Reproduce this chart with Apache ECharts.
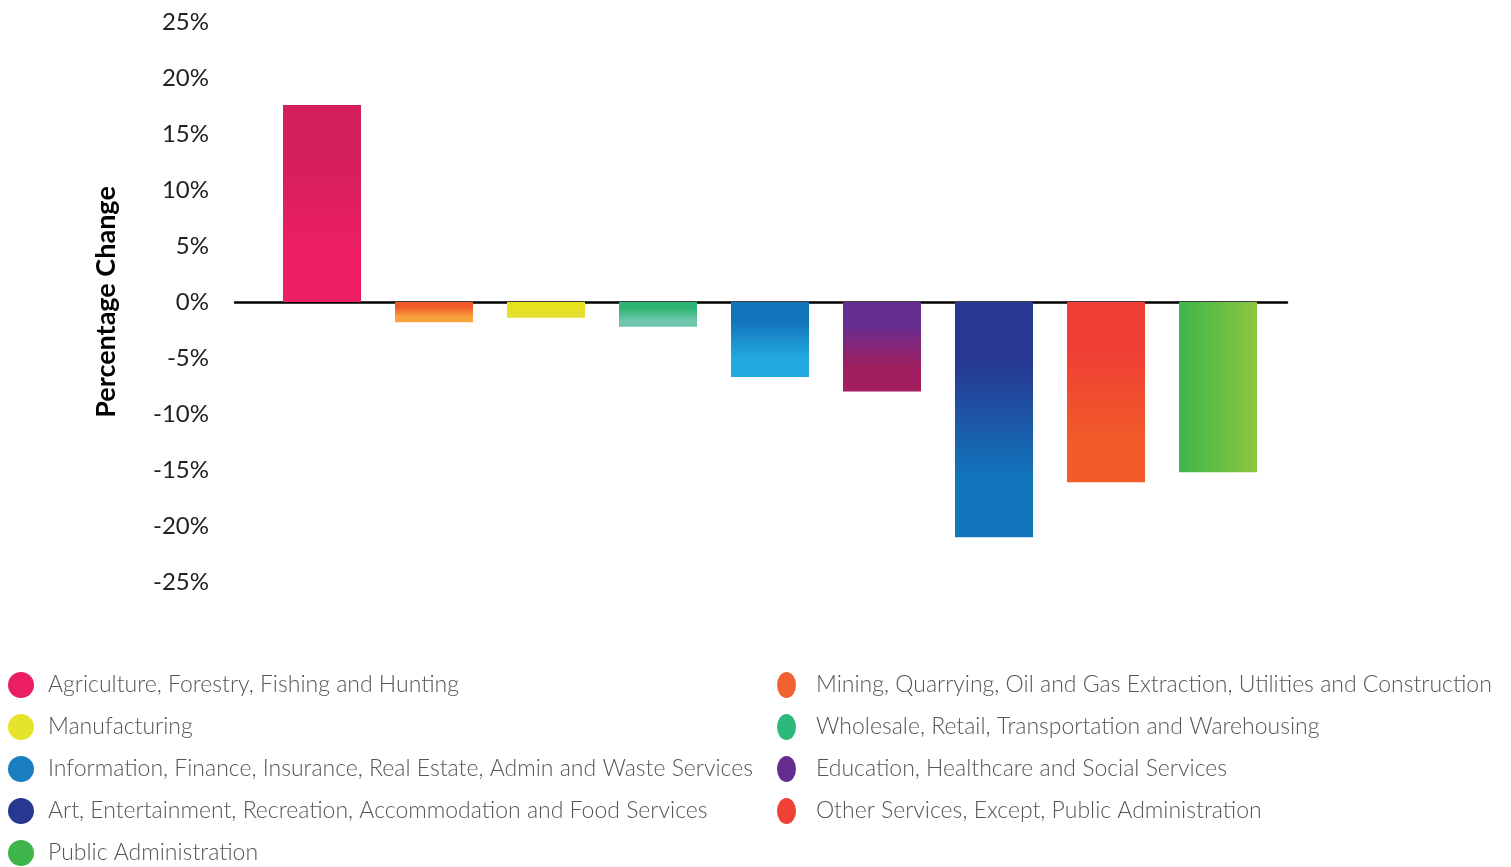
<!DOCTYPE html>
<html>
<head>
<meta charset="utf-8">
<title>Percentage Change by Industry</title>
<script src="https://cdn.jsdelivr.net/npm/echarts@6/dist/echarts.min.js"></script>
<style>
  html, body { margin: 0; padding: 0; background: #fff; }
  #chart { width: 1511px; height: 867px; }
</style>
</head>
<body>
<div id="chart"></div>
<script>
// Industry sectors, in bar order
const categories = [
  'Agriculture, Forestry, Fishing and Hunting',
  'Mining, Quarrying, Oil and Gas Extraction, Utilities and Construction',
  'Manufacturing',
  'Wholesale, Retail, Transportation and Warehousing',
  'Information, Finance, Insurance, Real Estate, Admin and Waste Services',
  'Education, Healthcare and Social Services',
  'Art, Entertainment, Recreation, Accommodation and Food Services',
  'Other Services, Except, Public Administration',
  'Public Administration'
];

// Percentage change per sector
const values = [17.6, -1.8, -1.4, -2.2, -6.7, -8.0, -21.0, -16.1, -15.2];

// Y-axis ticks
const yMin = -25;
const yMax = 25;
const yStep = 5;

// Legend swatch colours and bar gradients (start, end, direction)
const swatchColors = ['#EC1E63', '#F26130', '#E6E42A', '#2DB97A', '#1A7FC1', '#662D91', '#283891', '#EF4136', '#3DB54A'];
const gradients = [
  { stops: ['#D31F5C', '#EE1E63'], dir: 'v' },
  { stops: ['#F05A28', '#F9A33C'], dir: 'v' },
  { stops: ['#E8E31E', '#E4DF2C'], dir: 'v' },
  { stops: ['#2DB473', '#6FC6AD'], dir: 'v' },
  { stops: ['#1373BA', '#22A9E1'], dir: 'v' },
  { stops: ['#662D91', '#A21E5E'], dir: 'v' },
  { stops: ['#283891', '#1176BC'], dir: 'v' },
  { stops: ['#EF3E36', '#F15A29'], dir: 'v' },
  { stops: ['#3DB54A', '#8DC63F'], dir: 'h' }
];

const FONT = 'Lato';
const CIRCLE_PATH = 'path://M50,0A50,50,0,1,1,50,100A50,50,0,1,1,50,0Z';

function gradientFor(g) {
  const x2 = g.dir === 'h' ? 1 : 0;
  const y2 = g.dir === 'h' ? 0 : 1;
  const stops = g.dir === 'v'
    ? [{ offset: 0, color: g.stops[0] }, { offset: 0.25, color: g.stops[0] }, { offset: 0.75, color: g.stops[1] }, { offset: 1, color: g.stops[1] }]
    : [{ offset: 0, color: g.stops[0] }, { offset: 1, color: g.stops[1] }];
  return new echarts.graphic.LinearGradient(0, 0, x2, y2, stops);
}

const series = categories.map((name, i) => ({
  name: name,
  type: 'bar',
  xAxisIndex: 1,
  yAxisIndex: 1,
  barWidth: 78,
  barGap: '-100%',
  data: values.map((v, j) => (j === i ? v : '-')),
  itemStyle: { color: gradientFor(gradients[i]) },
  emphasis: { disabled: true }
}));

function legendData(idx) {
  return idx.map(i => ({ name: categories[i], itemStyle: { color: swatchColors[i] } }));
}

const chart = echarts.init(document.getElementById('chart'), null, { renderer: 'canvas' });
chart.setOption({
  animation: false,
  backgroundColor: '#fff',
  grid: [
    { left: 235, right: 224, top: 22, height: 560 },
    { left: 266, width: 1008, top: 22, height: 560 }
  ],
  xAxis: [
    {
      gridIndex: 0, type: 'value', min: 0, max: 1,
      axisLine: { show: true, onZero: true, lineStyle: { color: '#000', width: 2.5 } },
      axisTick: { show: false }, axisLabel: { show: false }, splitLine: { show: false }
    },
    {
      gridIndex: 1, type: 'category', data: categories,
      axisLine: { show: false }, axisTick: { show: false }, axisLabel: { show: false }
    }
  ],
  yAxis: [
    {
      gridIndex: 0, type: 'value', min: yMin, max: yMax, interval: yStep,
      name: 'Percentage Change', nameLocation: 'middle', nameRotate: 90, nameGap: 115,
      nameTextStyle: { fontFamily: FONT, fontSize: 27, fontWeight: 'bold', color: '#000' },
      axisLine: { show: false }, axisTick: { show: false }, splitLine: { show: false },
      axisLabel: { formatter: '{value}%', margin: 26, fontFamily: FONT, fontSize: 24, color: '#222' }
    },
    {
      gridIndex: 1, type: 'value', min: yMin, max: yMax, interval: yStep, show: false
    }
  ],
  legend: [
    {
      orient: 'vertical', left: 3, top: 667, height: 240, itemWidth: 26, itemHeight: 26, itemGap: 16,
      icon: 'circle', selectedMode: false,
      textStyle: { fontFamily: FONT, fontSize: 23, fontWeight: 300, color: '#555', padding: [0, 0, 0, 9] },
      data: legendData([0, 2, 4, 6, 8])
    },
    {
      orient: 'vertical', left: 772, top: 667, height: 240, itemWidth: 19, itemHeight: 26, itemGap: 16,
      icon: CIRCLE_PATH, symbolKeepAspect: false, selectedMode: false,
      textStyle: { fontFamily: FONT, fontSize: 23, fontWeight: 300, color: '#555', padding: [0, 0, 0, 15] },
      data: legendData([1, 3, 5, 7])
    }
  ],
  series: series
});
</script>
</body>
</html>
